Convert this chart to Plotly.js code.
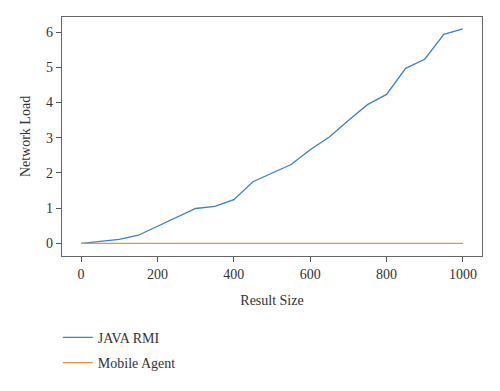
<!DOCTYPE html>
<html><head><meta charset="utf-8">
<script src="https://cdn.plot.ly/plotly-3.0.1.min.js"></script>
<style>html,body{margin:0;padding:0;background:#fff}#c{width:500px;height:391px}</style>
</head><body><div id="c"></div>
<script>
const resultSize = [0,50,100,150,200,250,300,350,400,450,500,550,600,650,700,750,800,850,900,950,1000];
const javaRmi = [0,0.06,0.11,0.23,0.49,0.75,0.99,1.05,1.24,1.75,2.0,2.24,2.66,3.02,3.49,3.94,4.23,4.97,5.23,5.94,6.09];
const mobileAgent = [0,0,0,0,0,0,0,0,0,0,0,0,0,0,0,0,0,0,0,0,0];
const xTicks = [0,200,400,600,800,1000];
const yTicks = [0,1,2,3,4,5,6];

const FAM = 'Liberation Serif, DejaVu Serif, serif';
function f(size){ return {family:FAM, size:size, color:'#333'}; }
const data = [
  {x:resultSize, y:javaRmi, mode:'lines', name:'JAVA RMI', legendgroup:'a', line:{color:'#3b82c8', width:1.3}},
  {x:resultSize, y:mobileAgent, mode:'lines', name:'Mobile Agent', legendgroup:'b', line:{color:'#ef8e3c', width:1.3}}
];
function axis(extra){
  return Object.assign({showgrid:false, zeroline:false, showline:true, mirror:true, linecolor:'#666', linewidth:1.3,
    ticks:'outside', ticklen:5, tickcolor:'#555', tickwidth:1, tickfont:f(14)}, extra);
}
const layout = {
  width:500, height:391, margin:{l:62, r:18, t:17, b:133},
  paper_bgcolor:'#fff', plot_bgcolor:'#fff', font:f(14),
  xaxis:axis({range:[-50,1050], tickvals:xTicks, title:{text:'Result Size', font:f(14), standoff:14}}),
  yaxis:axis({range:[-0.36,6.43], tickvals:yTicks, title:{text:'Network Load', font:f(14), standoff:12}}),
  showlegend:true,
  legend:{x:-0.01, y:-0.275, xanchor:'left', yanchor:'top', orientation:'v', font:f(14), traceorder:'grouped', tracegroupgap:4}
};
Plotly.newPlot('c', data, layout, {displayModeBar:false, staticPlot:true});
</script></body></html>
